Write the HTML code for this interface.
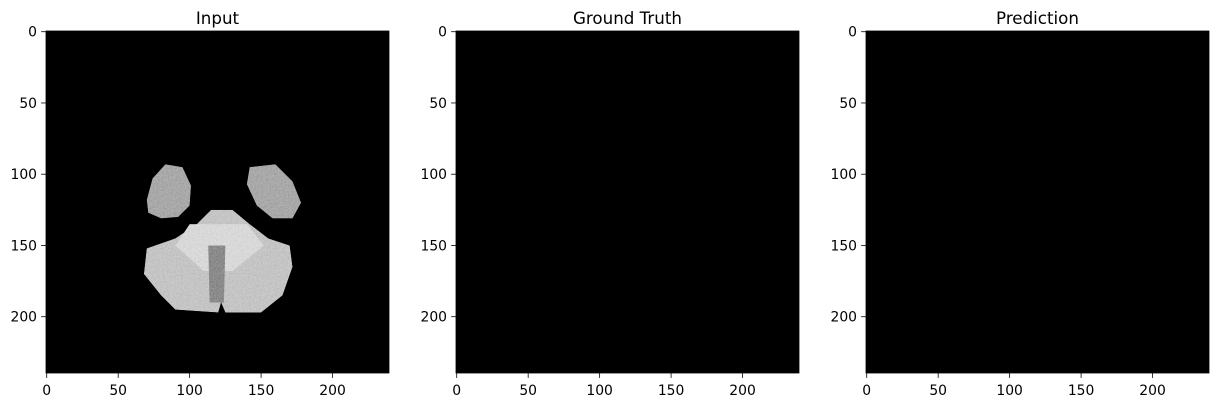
<!DOCTYPE html>
<html><head><meta charset="utf-8"><style>
body{margin:0;background:#fff;font-family:"DejaVu Sans","Liberation Sans",sans-serif}
</style></head><body>
<svg id="fig" width="1222" height="407" xmlns="http://www.w3.org/2000/svg">
<defs>
<filter id="tex" x="0" y="0" width="1" height="1">
<feTurbulence type="fractalNoise" baseFrequency="0.6" numOctaves="2" seed="3" result="n"/>
<feColorMatrix in="n" type="matrix" values="0.33 0.33 0.33 0 0  0.33 0.33 0.33 0 0  0.33 0.33 0.33 0 0  0 0 0 0 1" result="g"/>
<feComposite in="SourceGraphic" in2="g" operator="arithmetic" k1="0" k2="1" k3="0.35" k4="-0.17" result="c"/>
<feComposite in="c" in2="SourceGraphic" operator="in"/>
</filter>
</defs>
</svg>
<script>
const titles=["Input","Ground Truth","Prediction"];
const panelX=[46,456,866];
const xTicks=[0,50,100,150,200];
const yTicks=[0,50,100,150,200];
const imgSize=240;
const NS="http://www.w3.org/2000/svg";
const fig=document.getElementById('fig');
const W=343,H=342,Y0=31;
function mk(t,a,p){const e=document.createElementNS(NS,t);for(const k in a)e.setAttribute(k,a[k]);(p||fig).appendChild(e);return e;}
titles.forEach((title,i)=>{
  const x0=panelX[i];
  const g=mk('g',{});
  
  
  const sx=d=>x0+(d+0.5)*W/imgSize, sy=d=>Y0+(d+0.5)*H/imgSize;
  const r=mk('rect',{x:x0,y:Y0,width:W,height:H,fill:'#000'},g);
  
  
  if(i===0){
    const b=mk('g',{filter:'url(#tex)'},g);
    
    
    const polys=[
      [[[83,93],[95,95],[101,108],[100,122],[92,130],[80,131],[71,127],[70,118],[74,103]],'#a8a8a8'],
      [[[142,95],[160,93],[172,105],[178,120],[172,131],[158,131],[147,122],[140,107]],'#a8a8a8'],
      [[[115,125],[130,125],[142,135],[155,145],[170,150],[172,165],[165,185],[150,197],[125,197],[122,190],[120,197],[90,195],[80,185],[68,170],[70,152],[90,145],[105,135]],'#c4c4c4'],
      [[[100,135],[140,135],[152,150],[130,168],[110,168],[90,150]],'#d8d8d8'],
      [[[113,150],[125,150],[124,190],[114,190]],'#8a8a8a']
    ];
    polys.forEach(([pts,c])=>mk('polygon',{points:pts.map(p=>sx(p[0])+','+sy(p[1])).join(' '),fill:c},b));
  }
  const ax=mk('rect',{x:x0,y:Y0,width:W,height:H,fill:'none',stroke:'#000','stroke-width':0.8},g);
  
  
  const t=mk('text',{x:x0+W/2,y:24,'text-anchor':'middle','font-size':16.7,fill:'#000'},g);
  t.textContent=title;
  
  
  xTicks.forEach(v=>{
    const px=sx(v);
    mk('line',{x1:px,x2:px,y1:Y0+H,y2:Y0+H+4.9,stroke:'#000','stroke-width':0.8},g);
    const l=mk('text',{x:px,y:Y0+H+22,'text-anchor':'middle','font-size':13.9,fill:'#000'},g);
    l.textContent=v;
    
    
  });
  yTicks.forEach(v=>{
    const py=sy(v);
    mk('line',{x1:x0,x2:x0-4.9,y1:py,y2:py,stroke:'#000','stroke-width':0.8},g);
    const l=mk('text',{x:x0-9,y:py+5,'text-anchor':'end','font-size':13.9,fill:'#000'},g);
    l.textContent=v;
    
    
  });
});
</script>
</body></html>
